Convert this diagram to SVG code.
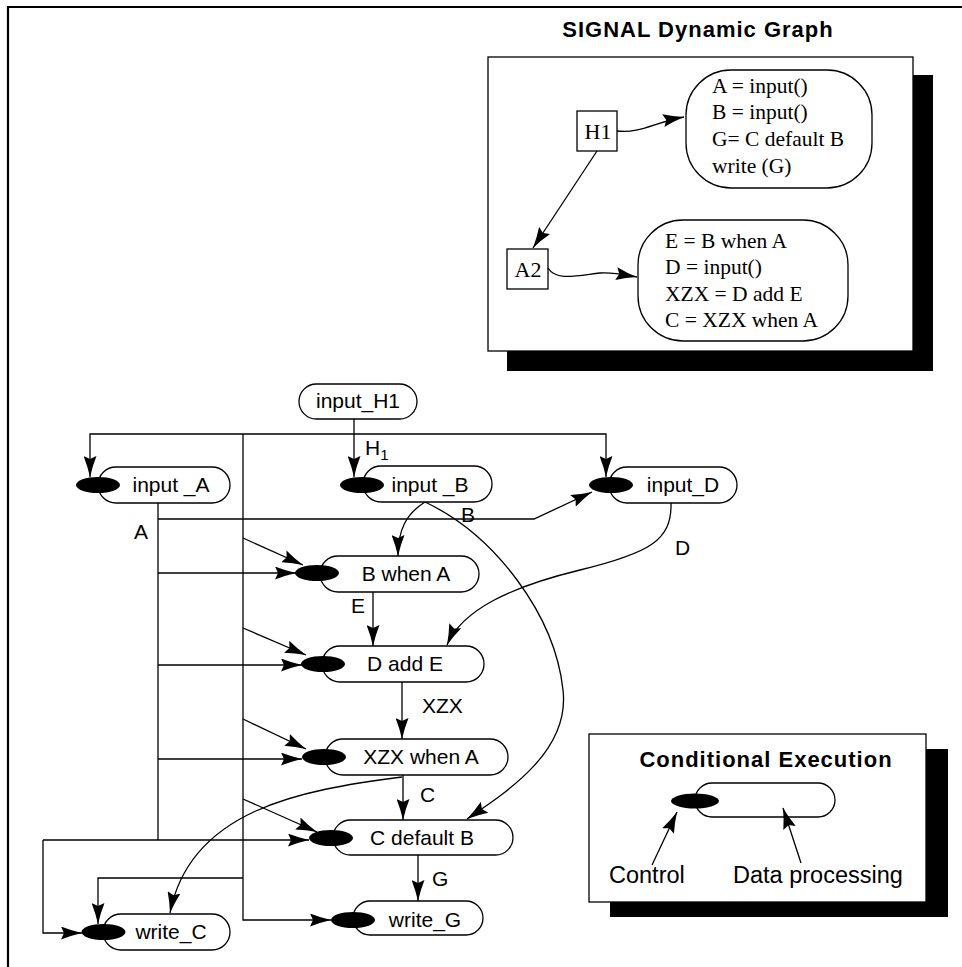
<svg xmlns="http://www.w3.org/2000/svg" width="962" height="967" viewBox="0 0 962 967">
<defs>
<style>
.ln{fill:none;stroke:#000;stroke-width:1.3}
.arr{marker-end:url(#ah)}
.box{fill:#fff;stroke:#000;stroke-width:1.3}
.ell{fill:#000}
.lbl{font-family:"Liberation Sans",Arial,Helvetica,sans-serif;font-size:21px;fill:#000}
.nt{font-family:"Liberation Sans",Arial,Helvetica,sans-serif;font-size:21px;fill:#000;text-anchor:middle}
.tm{font-family:"Liberation Serif","Times New Roman",serif;font-size:21.5px;fill:#000}
.ttl{font-family:"Liberation Sans",Arial,Helvetica,sans-serif;font-size:22px;font-weight:bold;letter-spacing:1px;fill:#000;text-anchor:middle}
.big{font-family:"Liberation Sans",Arial,Helvetica,sans-serif;font-size:23.5px;fill:#000}
</style>
<marker id="ah" markerUnits="userSpaceOnUse" viewBox="0 0 21 13" markerWidth="21" markerHeight="13" refX="21" refY="6.5" orient="auto">
<path d="M0,0 Q10,4 21,6.5 Q10,9 0,13 L3,6.5 Z" fill="#000"/>
</marker>
</defs>
<rect width="962" height="967" fill="#fff"/>
<path d="M8,970 L8,7 L965,7" fill="none" stroke="#000" stroke-width="2.2"/>

<!-- SIGNAL Dynamic Graph panel -->
<g id="signal-panel">
<rect x="507" y="75" width="426" height="296" fill="#000"/>
<rect x="488" y="57" width="425" height="294" class="box"/>
<text x="698" y="37" class="ttl">SIGNAL Dynamic Graph</text>
</g>
<g id="H1">
<rect x="577" y="111" width="40" height="40" class="box"/>
<text x="598" y="139" class="tm" text-anchor="middle" style="font-size:22px">H1</text>
</g>
<g id="A2">
<rect x="507" y="249" width="41" height="40" class="box"/>
<text x="528" y="277" class="tm" text-anchor="middle" style="font-size:22px">A2</text>
</g>
<g id="block1">
<rect x="686" y="70" width="186" height="118" rx="45" ry="45" class="box"/>
<text x="712" y="93" class="tm">A = input()</text>
<text x="712" y="119" class="tm">B = input()</text>
<text x="712" y="146" class="tm">G= C default B</text>
<text x="712" y="173" class="tm">write (G)</text>
</g>
<g id="block2">
<rect x="638" y="220" width="210" height="121" rx="45" ry="45" class="box"/>
<text x="665" y="248" class="tm">E = B when A</text>
<text x="665" y="274" class="tm">D = input()</text>
<text x="665" y="301" class="tm">XZX = D add E</text>
<text x="665" y="327" class="tm">C = XZX when A</text>
</g>
<g id="signal-connectors">
<path d="M617,131 C640,134 655,122 684,117" class="ln arr"/>
<path d="M597,151 L533,248" class="ln arr"/>
<path d="M548,268 C556,281 575,276 600,273 C615,272 625,275 637,277" class="ln arr"/>
</g>

<!-- Main graph connectors -->
<g id="connectors">
<path d="M354,419 L354,477" class="ln arr"/>
<path d="M243,434 L90,434 L90,477" class="ln arr"/>
<path d="M243,434 L606,434 L606,477" class="ln arr"/>
<path d="M243,434 L243,920 L331,920" class="ln arr"/>
<path d="M243,878 L98,878 L98,924" class="ln arr"/>
<path d="M243,538 L303,565" class="ln arr"/>
<path d="M243,628 L306,655" class="ln arr"/>
<path d="M243,719 L306,749" class="ln arr"/>
<path d="M243,799 L317,832" class="ln arr"/>
<path d="M158,503 L158,840" class="ln"/>
<path d="M43,840 L309,840" class="ln arr"/>
<path d="M43,840 L43,933 L82,933" class="ln arr"/>
<path d="M158,519 L534,519 L592,492" class="ln arr"/>
<path d="M158,573 L296,573" class="ln arr"/>
<path d="M158,665 L302,665" class="ln arr"/>
<path d="M158,759 L302,759" class="ln arr"/>
<path d="M425,502 C406,514 398,530 398,556" class="ln arr"/>
<path d="M425,502 C495,535 555,615 563,690 C570,750 510,790 467,819" class="ln arr"/>
<path d="M671,503 C672,540 650,553 580,570 C510,587 462,610 447,645" class="ln arr"/>
<path d="M373,592 L373,646" class="ln arr"/>
<path d="M402,682 L402,739" class="ln arr"/>
<path d="M403,775 L403,820" class="ln arr"/>
<path d="M418,855 L418,901" class="ln arr"/>
<path d="M402,777 C300,790 190,810 170,913" class="ln arr"/>
</g>

<g id="edge-labels">
<text x="134" y="539" class="lbl">A</text>
<text x="461" y="522" class="lbl">B</text>
<text x="675" y="555" class="lbl">D</text>
<text x="351" y="613" class="lbl">E</text>
<text x="422" y="713" class="lbl">XZX</text>
<text x="420" y="802" class="lbl">C</text>
<text x="432" y="886" class="lbl">G</text>
<text x="365" y="455" class="lbl">H<tspan font-size="15" dy="5">1</tspan></text>
</g>

<!-- Main graph nodes -->
<g id="input_H1">
<rect x="299" y="384" width="118" height="35" rx="17.5" class="box"/>
<text x="358" y="408" class="nt">input_H1</text>
</g>
<g id="input_A">
<rect x="98" y="467" width="132" height="36" rx="18" class="box"/>
<ellipse cx="98" cy="485" rx="22" ry="8" class="ell"/>
<text x="171" y="492" class="nt">input _A</text>
</g>
<g id="input_B">
<rect x="363" y="466" width="129" height="36" rx="18" class="box"/>
<ellipse cx="362" cy="485" rx="22" ry="8" class="ell"/>
<text x="430" y="492" class="nt">input _B</text>
</g>
<g id="input_D">
<rect x="609" y="467" width="128" height="36" rx="18" class="box"/>
<ellipse cx="611" cy="485" rx="22" ry="8" class="ell"/>
<text x="683" y="492" class="nt">input_D</text>
</g>
<g id="B_when_A">
<rect x="320" y="556" width="159" height="36" rx="18" class="box"/>
<ellipse cx="317" cy="573" rx="22" ry="8" class="ell"/>
<text x="406" y="581" class="nt">B when A</text>
</g>
<g id="D_add_E">
<rect x="322" y="646" width="162" height="36" rx="18" class="box"/>
<ellipse cx="323" cy="664" rx="22" ry="8" class="ell"/>
<text x="405" y="671" class="nt">D add E</text>
</g>
<g id="XZX_when_A">
<rect x="325" y="739" width="183" height="36" rx="18" class="box"/>
<ellipse cx="324" cy="757" rx="22" ry="8" class="ell"/>
<text x="421" y="764" class="nt">XZX when A</text>
</g>
<g id="C_default_B">
<rect x="333" y="820" width="180" height="35" rx="17.5" class="box"/>
<ellipse cx="331" cy="838" rx="22" ry="8" class="ell"/>
<text x="422" y="845" class="nt">C default B</text>
</g>
<g id="write_G">
<rect x="353" y="901" width="130" height="34" rx="17" class="box"/>
<ellipse cx="353" cy="920" rx="22" ry="8" class="ell"/>
<text x="425" y="927" class="nt">write_G</text>
</g>
<g id="write_C">
<rect x="103" y="914" width="127" height="36" rx="18" class="box"/>
<ellipse cx="103.5" cy="932" rx="22" ry="8" class="ell"/>
<text x="171" y="939" class="nt">write_C</text>
</g>

<!-- Legend -->
<g id="legend">
<rect x="610" y="749" width="338" height="168" fill="#000"/>
<rect x="589" y="734" width="337" height="168" class="box"/>
<text x="766" y="767" class="ttl">Conditional Execution</text>
<rect x="695" y="783" width="140" height="34" rx="17" class="box"/>
<ellipse cx="695" cy="801" rx="24" ry="7.5" class="ell"/>
<path d="M652,865 L677,812" class="ln arr"/>
<path d="M801,863 L783,808" class="ln arr"/>
<text x="609" y="883" class="big">Control</text>
<text x="733" y="883" class="big">Data processing</text>
</g>
</svg>
